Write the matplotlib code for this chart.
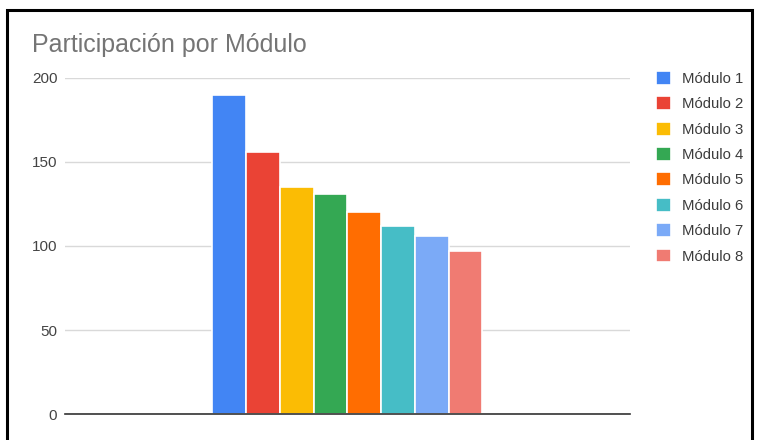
import numpy as np
import matplotlib.pyplot as plt
from matplotlib.patches import Rectangle

plt.rcParams['font.family'] = ['Liberation Sans', 'DejaVu Sans']

modulos = ["Módulo 1", "Módulo 2", "Módulo 3", "Módulo 4",
           "Módulo 5", "Módulo 6", "Módulo 7", "Módulo 8"]
participacion = [190, 156, 135, 131, 120, 112, 106, 97]
colores = ["#4285F4", "#EA4335", "#FBBC04", "#34A853",
           "#FF6D01", "#46BDC6", "#7BAAF7", "#F07B72"]
y_ticks = [0, 50, 100, 150, 200]


def main():
    fig = plt.figure(figsize=(7.6, 4.4), dpi=100)
    ax = fig.add_axes([0.0855, 0.059, 0.743, 0.764])

    # one category, eight bars side by side, centred
    slot = 0.478 / len(modulos)
    offsets = (np.arange(len(modulos)) - (len(modulos) - 1) / 2) * slot
    handles = ax.bar(offsets, participacion, width=slot, color=colores,
                     edgecolor="white", linewidth=1.2, zorder=3)

    ax.set_xlim(-0.5, 0.5)
    ax.set_ylim(0, 200)
    ax.set_yticks(y_ticks)
    ax.set_xticks([])
    ax.tick_params(axis="y", length=0, pad=5.5, labelsize=11, labelcolor="#444444")
    ax.grid(axis="y", color="#d9d9d9", linewidth=1, zorder=0)
    for side in ["top", "right", "left"]:
        ax.spines[side].set_visible(False)
    ax.spines["bottom"].set_color("#333333")
    ax.spines["bottom"].set_linewidth(1.2)
    ax.spines["bottom"].set_zorder(4)

    fig.text(0.042, 0.897, "Participación por Módulo", fontsize=18,
             color="#757575", va="center", ha="left")

    fig.legend(handles, modulos, loc="upper left", bbox_to_anchor=(0.845, 0.869),
               frameon=False, fontsize=10.7, handlelength=1.05, handleheight=1.05,
               handletextpad=0.72, labelspacing=0.7, labelcolor="#3c3c3c")

    fig.patches.append(Rectangle((0.009, -0.01), 0.981, 0.988, fill=False,
                                 edgecolor="black", linewidth=2.2,
                                 transform=fig.transFigure, figure=fig))

    fig.savefig("out.png", dpi=100)


main()
